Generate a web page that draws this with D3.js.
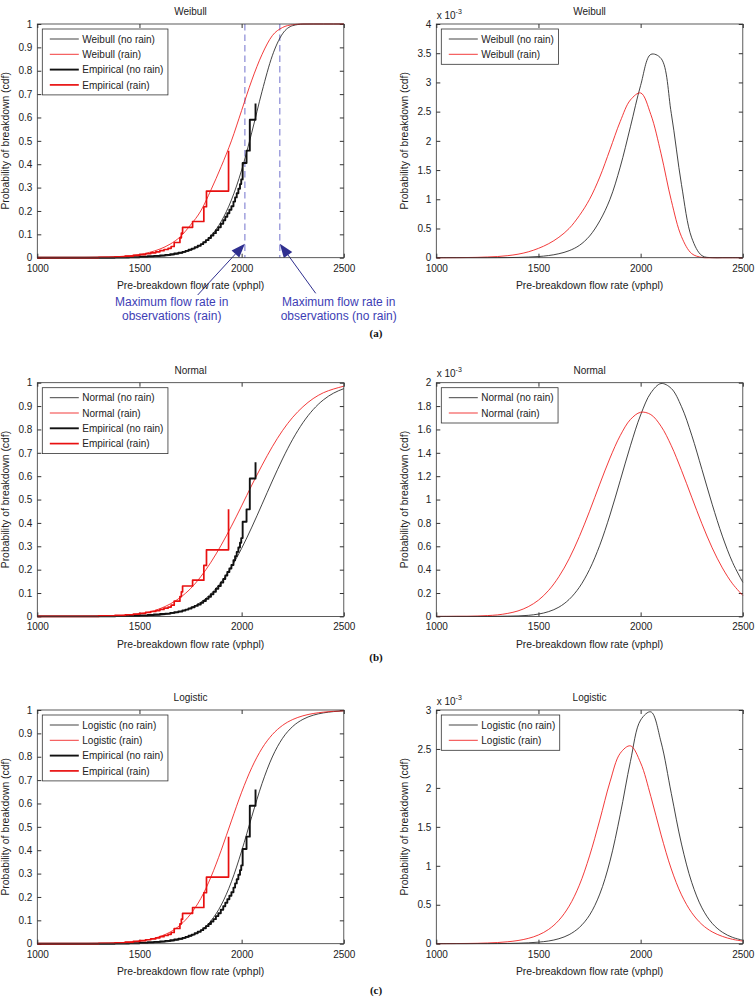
<!DOCTYPE html>
<html>
<head>
<meta charset="utf-8">
<script src="https://cdn.jsdelivr.net/npm/d3@7"></script>
<style>
  body { margin: 0; background: #fff; }
  svg { display: block; }
</style>
</head>
<body>
<svg id="chart" width="755" height="997"></svg>
<script>
// ---- data ----
const flowRate = [1000,1050,1100,1150,1200,1250,1300,1350,1400,1450,1500,1550,1600,1650,1700,1750,1800,1850,1900,1950,2000,2050,2100,2150,2200,2250,2300,2350,2400,2450,2500];

// cdf, Weibull
const weibullCdfNoRain = [0,0,0,0,0,0,0.0001,0.0002,0.0004,0.0008,0.0015,0.003,0.0054,0.01,0.018,0.032,0.055,0.094,0.155,0.247,0.375,0.537,0.712,0.864,0.958,0.993,0.9995,1,1,1,1];
const weibullCdfRain = [0,0,0.0001,0.0003,0.0005,0.001,0.002,0.003,0.005,0.008,0.014,0.023,0.037,0.058,0.09,0.14,0.2,0.29,0.39,0.5,0.63,0.76,0.87,0.95,0.985,0.997,1,1,1,1,1];
// pdf (x 10^-3), Weibull
const weibullPdfNoRain = [0,0,0,0,0,0,0.001,0.002,0.005,0.011,0.02,0.037,0.068,0.12,0.21,0.37,0.63,1.0,1.55,2.24,2.95,3.48,3.41,2.47,1.25,0.34,0.035,0,0,0,0];
const weibullPdfRain = [0,0,0.001,0.003,0.006,0.012,0.02,0.035,0.06,0.1,0.16,0.24,0.35,0.5,0.72,1.0,1.38,1.85,2.33,2.7,2.82,2.45,1.78,0.98,0.36,0.07,0.005,0,0,0,0];

// cdf, Normal
const normalCdfNoRain = [0,0,0,0,0,0,0,0,0.0002,0.0005,0.0011,0.0026,0.0054,0.0107,0.0202,0.0359,0.0606,0.0968,0.1469,0.2119,0.2912,0.3821,0.4801,0.5793,0.6736,0.758,0.8289,0.8849,0.9265,0.9554,0.9744];
const normalCdfRain = [0,0,0,0,0.0001,0.0003,0.0007,0.0015,0.0032,0.006,0.011,0.019,0.033,0.053,0.081,0.119,0.17,0.232,0.305,0.386,0.473,0.562,0.647,0.726,0.795,0.852,0.897,0.932,0.957,0.973,0.985];
// pdf (x 10^-3), Normal
const normalPdfNoRain = [0,0,0,0,0,0,0.001,0.002,0.004,0.009,0.02,0.041,0.079,0.145,0.249,0.402,0.609,0.868,1.162,1.46,1.724,1.913,1.993,1.951,1.795,1.551,1.258,0.96,0.687,0.462,0.292];
const normalPdfRain = [0,0,0.001,0.001,0.003,0.007,0.013,0.026,0.047,0.083,0.139,0.223,0.34,0.493,0.683,0.9,1.132,1.355,1.547,1.685,1.747,1.727,1.627,1.461,1.25,1.02,0.793,0.587,0.415,0.279,0.179];

// cdf, Logistic
const logisticCdfNoRain = [0,0,0,0,0,0.0001,0.0001,0.0003,0.0005,0.0009,0.0016,0.003,0.0054,0.0098,0.0176,0.0317,0.0562,0.098,0.1652,0.265,0.3965,0.5449,0.6857,0.799,0.8787,0.9295,0.96,0.9777,0.9876,0.9932,0.9962];
const logisticCdfRain = [0.0001,0.0001,0.0002,0.0003,0.0005,0.0009,0.0015,0.0024,0.0041,0.0068,0.0112,0.0185,0.0305,0.0497,0.0802,0.1267,0.1931,0.2856,0.3996,0.5255,0.6482,0.754,0.8362,0.8947,0.934,0.9593,0.9751,0.9849,0.9908,0.9945,0.9967];
// pdf (x 10^-3), Logistic
const logisticPdfNoRain = [0,0,0,0,0.001,0.001,0.002,0.003,0.006,0.011,0.02,0.035,0.064,0.116,0.208,0.367,0.637,1.06,1.655,2.339,2.871,2.976,2.588,1.93,1.279,0.787,0.46,0.262,0.147,0.081,0.045];
const logisticPdfRain = [0.001,0.001,0.002,0.003,0.005,0.009,0.015,0.025,0.041,0.068,0.112,0.184,0.301,0.482,0.751,1.127,1.587,2.077,2.444,2.54,2.321,1.89,1.397,0.959,0.627,0.398,0.247,0.152,0.094,0.056,0.034];

// empirical step cdfs (same observations in every panel)
const empiricalNoRainFlow = [1000,1380,1450,1500,1540,1570,1600,1625,1650,1670,1690,1710,1725,1740,1755,1770,1785,1800,1812,1825,1838,1850,1862,1874,1886,1898,1910,1920,1930,1940,1950,1960,1968,1976,1984,1992,1998,2005,2024,2040,2068];
const empiricalNoRainProb = [0,0.001,0.002,0.004,0.006,0.008,0.01,0.012,0.015,0.018,0.021,0.025,0.029,0.034,0.039,0.045,0.051,0.058,0.066,0.075,0.084,0.095,0.105,0.118,0.13,0.145,0.16,0.175,0.19,0.205,0.22,0.24,0.258,0.276,0.295,0.315,0.335,0.405,0.458,0.59,0.66];
const empiricalRainFlow = [1000,1300,1380,1430,1470,1500,1530,1555,1580,1600,1620,1640,1655,1670,1698,1705,1711,1760,1815,1828,1936];
const empiricalRainProb = [0,0.002,0.004,0.007,0.01,0.013,0.017,0.021,0.025,0.03,0.035,0.04,0.048,0.065,0.085,0.105,0.13,0.155,0.218,0.285,0.458];

// maximum observed flow rates (dashed markers in panel a)
const maxFlowRain = 2016;
const maxFlowNoRain = 2187;

// ticks and labels
const flowTicks = [1000, 1500, 2000, 2500];
const cdfTicks = [0, 0.1, 0.2, 0.3, 0.4, 0.5, 0.6, 0.7, 0.8, 0.9, 1];
const weibullPdfTicks = [0, 0.5, 1, 1.5, 2, 2.5, 3, 3.5, 4];
const normalPdfTicks = [0, 0.2, 0.4, 0.6, 0.8, 1, 1.2, 1.4, 1.6, 1.8, 2];
const logisticPdfTicks = [0, 0.5, 1, 1.5, 2, 2.5, 3];
const distNames = ["Weibull", "Normal", "Logistic"];
const panelTags = ["(a)", "(b)", "(c)"];
const annotationLines = [["Maximum flow rate in", "observations (rain)"], ["Maximum flow rate in", "observations (no rain)"]];
const xLabel = "Pre-breakdown flow rate (vphpl)";
const yLabel = "Probability of breakdown (cdf)";

// ---- layout ----
const FONT = "'Liberation Sans', Arial, Helvetica, sans-serif";
const plotW = 306.5, plotH = 233.7;
const colLeft = [37.3, 436.3];
const rowTop = [24, 382.7, 710];
const tagY = [337, 661, 994];

const svg = d3.select("#chart");
svg.append("rect").attr("width", 755).attr("height", 997).attr("fill", "#fff");

const thinBlack = { color: "#222", width: 0.85 };
const thinRed = { color: "#f01818", width: 0.85 };
const thickBlack = { color: "#111", width: 1.9 };
const thickRed = { color: "#e81010", width: 1.7 };

function drawPanel(left, top, cfg) {
  const g = svg.append("g").attr("transform", `translate(${left},${top})`);
  const x = d3.scaleLinear().domain([flowTicks[0], flowTicks[flowTicks.length - 1]]).range([0, plotW]);
  const y = d3.scaleLinear().domain([0, cfg.yTicks[cfg.yTicks.length - 1]]).range([plotH, 0]);
  const fmt = d3.format(".1~f");

  const axes = [
    g.append("g").attr("transform", `translate(0,${plotH})`)
      .call(d3.axisBottom(x).tickValues(flowTicks).tickSizeInner(-4).tickSizeOuter(0).tickPadding(7).tickFormat(d3.format("d"))),
    g.append("g")
      .call(d3.axisTop(x).tickValues(flowTicks).tickSizeInner(-4).tickSizeOuter(0).tickFormat("")),
    g.append("g")
      .call(d3.axisLeft(y).tickValues(cfg.yTicks).tickSizeInner(-4).tickSizeOuter(0).tickPadding(5).tickFormat(fmt)),
    g.append("g").attr("transform", `translate(${plotW},0)`)
      .call(d3.axisRight(y).tickValues(cfg.yTicks).tickSizeInner(-4).tickSizeOuter(0).tickFormat(""))
  ];
  axes.forEach(a => {
    a.attr("font-family", FONT).attr("font-size", 10).attr("color", "#333");
    a.select(".domain").remove();
    a.selectAll("text").attr("fill", "#222");
  });

  if (cfg.markers) cfg.markers(g, x, y);

  cfg.series.forEach(s => {
    const line = d3.line()
      .curve(s.step ? d3.curveStepAfter : s.curve)
      .x((d, i) => x(s.xs[i]))
      .y(d => y(d));
    g.append("path")
      .datum(s.ys)
      .attr("d", line)
      .attr("fill", "none")
      .attr("stroke", s.style.color)
      .attr("stroke-width", s.style.width)
      .attr("stroke-linejoin", "round");
  });

  g.append("rect").attr("width", plotW).attr("height", plotH)
    .attr("fill", "none").attr("stroke", "#333").attr("stroke-width", 0.8);

  g.append("text").attr("x", plotW / 2).attr("y", -8.6)
    .attr("text-anchor", "middle").attr("font-family", FONT).attr("font-size", 10).attr("fill", "#222")
    .text(cfg.title);
  g.append("text").attr("x", plotW / 2).attr("y", plotH + 31.5)
    .attr("text-anchor", "middle").attr("font-family", FONT).attr("font-size", 10.4).attr("fill", "#222")
    .text(xLabel);
  g.append("text").attr("transform", `translate(-28.3,${plotH / 2}) rotate(-90)`)
    .attr("text-anchor", "middle").attr("font-family", FONT).attr("font-size", 10.4).attr("fill", "#222")
    .text(yLabel);

  if (cfg.exponent) {
    const t = g.append("text").attr("x", 0.4).attr("y", -5.5)
      .attr("font-family", FONT).attr("font-size", 10).attr("fill", "#222");
    t.append("tspan").text("x 10");
    t.append("tspan").attr("dy", -5).attr("font-size", 7).text("-3");
  }

  // legend
  const lg = g.append("g").attr("transform", "translate(5,5)");
  const box = lg.append("rect").attr("fill", "#fff").attr("stroke", "#333").attr("stroke-width", 0.8);
  let maxW = 0;
  cfg.series.forEach((s, i) => {
    const ry = 10 + i * 15.3;
    lg.append("line").attr("x1", 7.5).attr("x2", 36.5).attr("y1", ry).attr("y2", ry)
      .attr("stroke", s.style.color).attr("stroke-width", s.style.width);
    const txt = lg.append("text").attr("x", 40).attr("y", ry + 3.6)
      .attr("font-family", FONT).attr("font-size", 10).attr("fill", "#222").text(s.label);
    maxW = Math.max(maxW, txt.node().getComputedTextLength());
  });
  box.attr("width", 40 + maxW + 4.5).attr("height", 15.3 * (cfg.series.length - 1) + 20);
}

function drawMarkers(g, x, y) {
  const flows = [maxFlowRain, maxFlowNoRain];
  flows.forEach(f => {
    g.append("line").attr("x1", x(f)).attr("x2", x(f)).attr("y1", 0).attr("y2", plotH)
      .attr("stroke", "#7272cc").attr("stroke-width", 1).attr("stroke-dasharray", "6.5,4");
  });
  const labelX = [134.4, 301.4];
  const tails = [[160.4, 271], [278.4, 269.3]];
  flows.forEach((f, i) => {
    const tip = [x(f), y(0.06)];
    const dx = tip[0] - tails[i][0], dy = tip[1] - tails[i][1];
    const len = Math.hypot(dx, dy), ux = dx / len, uy = dy / len;
    const L = 14, W = 5.2;
    const base = [tip[0] - L * ux, tip[1] - L * uy];
    g.append("line").attr("x1", tails[i][0]).attr("y1", tails[i][1])
      .attr("x2", base[0]).attr("y2", base[1])
      .attr("stroke", "#2f2f8f").attr("stroke-width", 1);
    g.append("polygon")
      .attr("points", [tip, [base[0] - W * uy, base[1] + W * ux], [base[0] + W * uy, base[1] - W * ux]].map(p => p.join(",")).join(" "))
      .attr("fill", "#2f2f8f");
    annotationLines[i].forEach((line, j) => {
      g.append("text").attr("x", labelX[i]).attr("y", 282.3 + j * 14)
        .attr("text-anchor", "middle").attr("font-family", FONT).attr("font-size", 12).attr("fill", "#3d3db5")
        .text(line);
    });
  });
}

const cdfSets = [
  [weibullCdfNoRain, weibullCdfRain],
  [normalCdfNoRain, normalCdfRain],
  [logisticCdfNoRain, logisticCdfRain]
];
const pdfSets = [
  [weibullPdfNoRain, weibullPdfRain, weibullPdfTicks],
  [normalPdfNoRain, normalPdfRain, normalPdfTicks],
  [logisticPdfNoRain, logisticPdfRain, logisticPdfTicks]
];

distNames.forEach((name, r) => {
  drawPanel(colLeft[0], rowTop[r], {
    title: name,
    yTicks: cdfTicks,
    markers: r === 0 ? drawMarkers : null,
    series: [
      { label: `${name} (no rain)`, xs: flowRate, ys: cdfSets[r][0], style: thinBlack, curve: d3.curveMonotoneX },
      { label: `${name} (rain)`, xs: flowRate, ys: cdfSets[r][1], style: thinRed, curve: d3.curveMonotoneX },
      { label: "Empirical (no rain)", xs: empiricalNoRainFlow, ys: empiricalNoRainProb, style: thickBlack, step: true },
      { label: "Empirical (rain)", xs: empiricalRainFlow, ys: empiricalRainProb, style: thickRed, step: true }
    ]
  });
  drawPanel(colLeft[1], rowTop[r], {
    title: name,
    yTicks: pdfSets[r][2],
    exponent: true,
    series: [
      { label: `${name} (no rain)`, xs: flowRate, ys: pdfSets[r][0], style: thinBlack, curve: d3.curveCatmullRom },
      { label: `${name} (rain)`, xs: flowRate, ys: pdfSets[r][1], style: thinRed, curve: d3.curveCatmullRom }
    ]
  });
  svg.append("text").attr("x", 376).attr("y", tagY[r])
    .attr("text-anchor", "middle").attr("font-family", "'Liberation Serif', 'Times New Roman', serif")
    .attr("font-weight", "bold").attr("font-size", 11).attr("fill", "#111")
    .text(panelTags[r]);
});
</script>
</body>
</html>
